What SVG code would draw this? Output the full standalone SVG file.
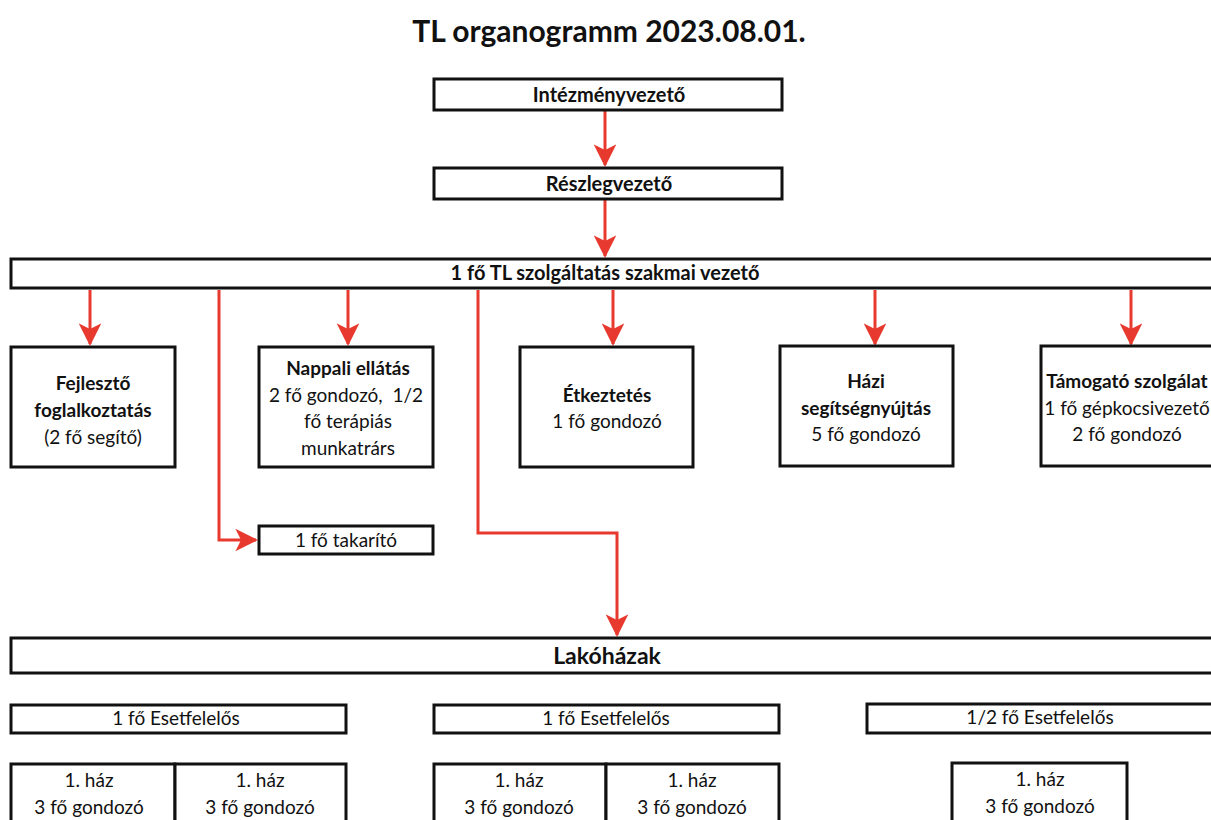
<svg xmlns="http://www.w3.org/2000/svg" width="1211" height="820" viewBox="0 0 1211 820">
<defs>
<style>
.box{fill:#fff;stroke:#111;stroke-width:3}
.t{font-family:Lato,"Liberation Sans",sans-serif;font-size:19px;fill:#111;text-anchor:middle}
.b{font-weight:bold}
.c{fill:none;stroke:#e8392f;stroke-width:3}
</style>
<marker id="ah" viewBox="0 0 12 12" refX="11" refY="6" markerWidth="7.5" markerHeight="7.5" orient="auto" markerUnits="strokeWidth">
<path d="M0,0 L12,6 L0,12 L3,6 z" fill="#e8392f"/>
</marker>
</defs>
<rect width="1211" height="820" fill="#fff"/>
<text x="609" y="42" class="t b" style="font-size:30px">TL organogramm 2023.08.01.</text>

<g id="connectors">
<line class="c" x1="605" y1="111" x2="605" y2="165" marker-end="url(#ah)"/>
<line class="c" x1="605" y1="200" x2="605" y2="256" marker-end="url(#ah)"/>
<line class="c" x1="90" y1="290" x2="90" y2="344" marker-end="url(#ah)"/>
<line class="c" x1="348" y1="290" x2="348" y2="344" marker-end="url(#ah)"/>
<line class="c" x1="613" y1="290" x2="613" y2="344" marker-end="url(#ah)"/>
<line class="c" x1="875" y1="290" x2="875" y2="344" marker-end="url(#ah)"/>
<line class="c" x1="1131" y1="290" x2="1131" y2="344" marker-end="url(#ah)"/>
<polyline class="c" points="219,290 219,540 256,540" marker-end="url(#ah)"/>
<polyline class="c" points="478,290 478,533 617,533 617,635" marker-end="url(#ah)"/>
</g>

<g id="n-intezmeny">
<rect class="box" x="434" y="79" width="348" height="31"/>
<text class="t b" x="609" y="102" style="font-size:20px">Intézményvezető</text>
</g>
<g id="n-reszleg">
<rect class="box" x="434" y="168" width="348" height="31"/>
<text class="t b" x="609" y="191" style="font-size:20px">Részlegvezető</text>
</g>
<g id="n-szakmai">
<rect class="box" x="11" y="259" width="1210" height="29"/>
<text class="t b" x="605" y="280" style="font-size:20px">1 fő TL szolgáltatás szakmai vezető</text>
</g>

<g id="n-fejleszto">
<rect class="box" x="11" y="347" width="164" height="120"/>
<text class="t b" x="93" y="390">Fejlesztő</text>
<text class="t b" x="93" y="417">foglalkoztatás</text>
<text class="t" x="93" y="444">(2 fő segítő)</text>
</g>
<g id="n-nappali">
<rect class="box" x="259" y="347" width="174" height="120"/>
<text class="t b" x="348" y="375">Nappali ellátás</text>
<text class="t" x="346" y="402">2 fő gondozó,&#160; 1/2</text>
<text class="t" x="348" y="428">fő terápiás</text>
<text class="t" x="348" y="455">munkatrárs</text>
</g>
<g id="n-etkeztetes">
<rect class="box" x="520" y="347" width="173" height="120"/>
<text class="t b" x="607" y="402">Étkeztetés</text>
<text class="t" x="607" y="428">1 fő gondozó</text>
</g>
<g id="n-hazi">
<rect class="box" x="780" y="346" width="173" height="120"/>
<text class="t b" x="866" y="388">Házi</text>
<text class="t b" x="866" y="415">segítségnyújtás</text>
<text class="t" x="866" y="441">5 fő gondozó</text>
</g>
<g id="n-tamogato">
<rect class="box" x="1041" y="346" width="172" height="120"/>
<text class="t b" x="1127" y="388">Támogató szolgálat</text>
<text class="t" x="1127" y="415">1 fő gépkocsivezető</text>
<text class="t" x="1127" y="441">2 fő gondozó</text>
</g>

<g id="n-takarito">
<rect class="box" x="259" y="526" width="174" height="28"/>
<text class="t" x="346" y="547">1 fő takarító</text>
</g>

<g id="n-lakohazak">
<rect class="box" x="11" y="638" width="1210" height="35"/>
<text class="t b" x="607" y="664" style="font-size:23px">Lakóházak</text>
</g>

<g id="n-eset1">
<rect class="box" x="11" y="705" width="335" height="28"/>
<text class="t" x="176" y="725">1 fő Esetfelelős</text>
</g>
<g id="n-eset2">
<rect class="box" x="434" y="705" width="345" height="28"/>
<text class="t" x="606" y="725">1 fő Esetfelelős</text>
</g>
<g id="n-eset3">
<rect class="box" x="867" y="704" width="354" height="29"/>
<text class="t" x="1040" y="724">1/2 fő Esetfelelős</text>
</g>

<g id="n-haz1">
<rect class="box" x="11" y="764" width="164" height="70"/>
<text class="t" x="89" y="787">1. ház</text>
<text class="t" x="89" y="814">3 fő gondozó</text>
</g>
<g id="n-haz2">
<rect class="box" x="175" y="764" width="171" height="70"/>
<text class="t" x="260" y="787">1. ház</text>
<text class="t" x="260" y="814">3 fő gondozó</text>
</g>
<g id="n-haz3">
<rect class="box" x="434" y="764" width="172" height="70"/>
<text class="t" x="519" y="787">1. ház</text>
<text class="t" x="519" y="814">3 fő gondozó</text>
</g>
<g id="n-haz4">
<rect class="box" x="606" y="764" width="173" height="70"/>
<text class="t" x="692" y="787">1. ház</text>
<text class="t" x="692" y="814">3 fő gondozó</text>
</g>
<g id="n-haz5">
<rect class="box" x="952" y="763" width="175" height="70"/>
<text class="t" x="1040" y="786">1. ház</text>
<text class="t" x="1040" y="813">3 fő gondozó</text>
</g>
</svg>
